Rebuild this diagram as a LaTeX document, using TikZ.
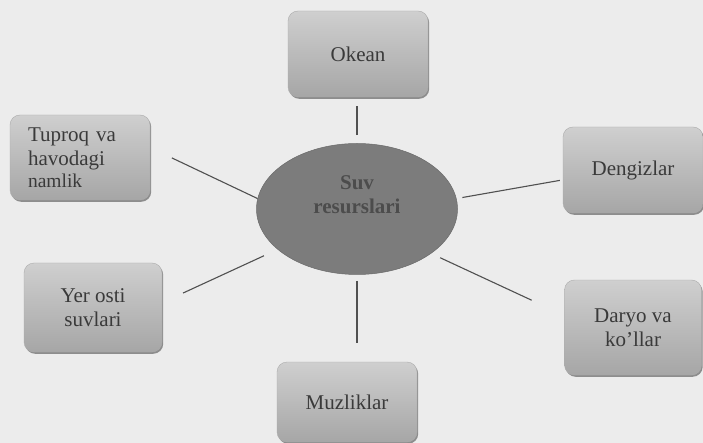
\documentclass[tikz,border=0pt]{standalone}
\usepackage{fontspec}
\setmainfont{Liberation Serif}
\usetikzlibrary{shadows,shapes.geometric}
\definecolor{paper}{HTML}{ECECEC}
\definecolor{boxtop}{HTML}{CFCFCF}
\definecolor{boxbot}{HTML}{A6A6A6}
\definecolor{corefill}{HTML}{7C7C7C}
\definecolor{coretext}{HTML}{4C4C4C}
\definecolor{ink}{HTML}{3A3A3A}
\definecolor{spokegray}{HTML}{505050}

\begin{document}
\begin{tikzpicture}[x=1pt, y=-1pt,
    res/.style={rounded corners=10pt, top color=boxtop, bottom color=boxbot,
        draw=gray!65, line width=0.4pt,
        drop shadow={shadow xshift=1.2pt, shadow yshift=-1.8pt, fill=black!60, opacity=0.7},
        minimum width=140pt, minimum height=86pt, align=center, text=ink,
        font=\fontsize{21}{24}\selectfont, inner sep=2pt},
    spoke/.style={draw=spokegray, line width=1.1pt}]

    % paper
    \useasboundingbox[fill=paper] (0,0) rectangle (703,443);

    % Central ellipse
    \node[ellipse, fill=corefill, draw=corefill!85!black, line width=0.5pt,
          minimum width=201pt, minimum height=131pt, inner sep=0pt] (suv) at (357,209) {};
    \node[align=center, text=coretext, font=\fontsize{21}{24}\selectfont\bfseries] (suvtext) at (357,195) {Suv\\resurslari};

    % Resources round the centre
    \node[res] (okean) at (358,54) {Okean};
    \node[res, text width=104pt, inner xsep=18pt, align=left, minimum height=85pt] (tuproq) at (80,157.5)
        {Tuproq va\\havodagi\\[-2pt]{\fontsize{19.5}{22}\selectfont namlik}};
    \node[res] (dengiz) at (633,170) {Dengizlar};
    \node[res, minimum width=138pt, minimum height=89pt] (yerosti) at (93,307.5) {Yer osti\\suvlari};
    \node[res, minimum width=137pt, minimum height=95pt] (daryo) at (633,327.5) {Daryo va\\ko’llar};
    \node[res, minimum height=80pt] (muzlik) at (347,402) {Muzliklar};

    % Spokes
    \draw[spoke, shorten <=8pt, shorten >=9pt] (suv.north) -- (suv.north |- okean.south);
    \draw[spoke, shorten >=24pt] (suv.174) -- (tuproq.8);
    \draw[spoke, shorten <=6pt, shorten >=3pt] (suv.6) -- (dengiz.188);
    \draw[spoke, shorten <=15pt, shorten >=23pt] (suv.207) -- (yerosti.4);
    \draw[spoke, shorten <=10pt, shorten >=36pt] (suv.329) -- (daryo.170);
    \draw[spoke, shorten <=6pt, shorten >=19pt] (suv.south) -- (suv.south |- muzlik.north);
\end{tikzpicture}
\end{document}
